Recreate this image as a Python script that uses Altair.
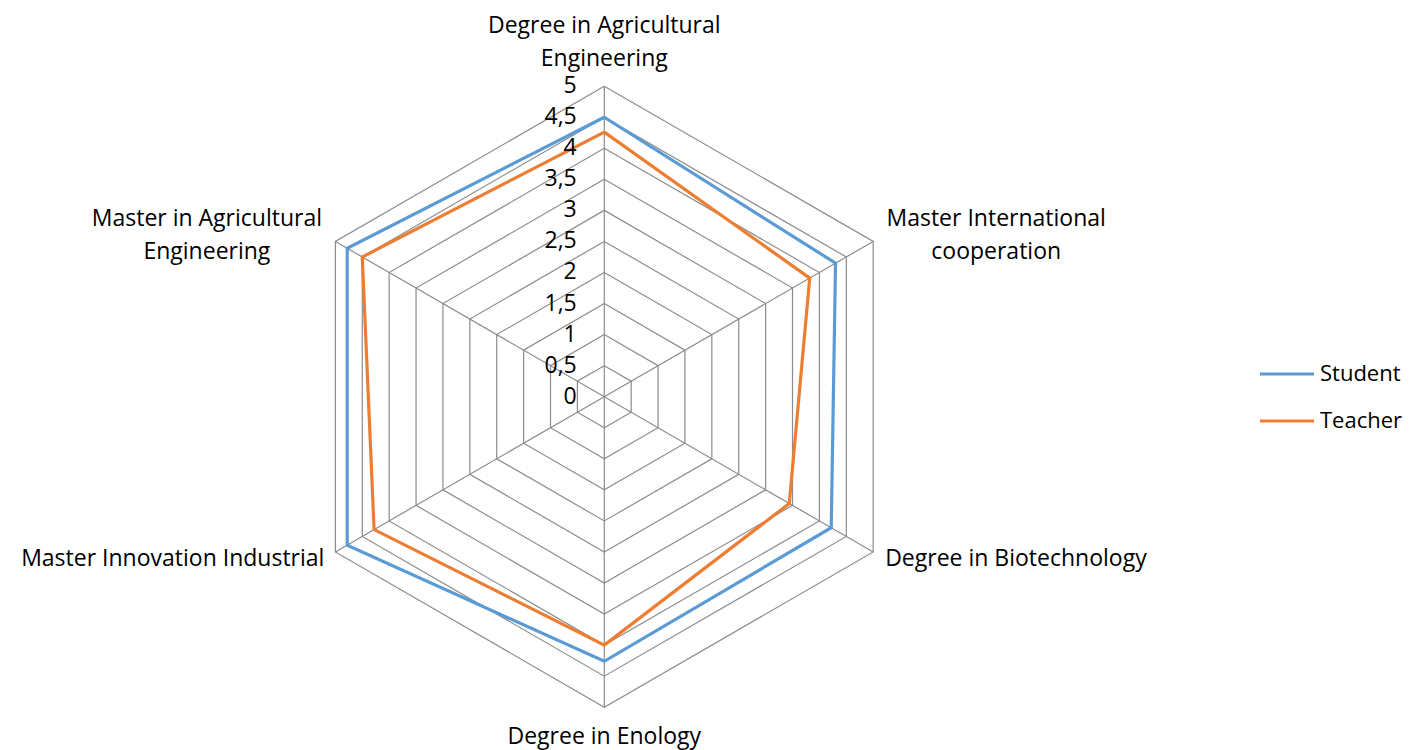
import altair as alt
import pandas as pd

categories = [
    "Degree in Agricultural\nEngineering",
    "Master International\ncooperation",
    "Degree in Biotechnology",
    "Degree in Enology",
    "Master Innovation Industrial",
    "Master in Agricultural\nEngineering",
]
student = [4.5, 4.3, 4.22, 4.26, 4.78, 4.78]
teacher = [4.26, 3.82, 3.44, 4.0, 4.28, 4.5]
series_names = ["Student", "Teacher"]
series_colors = ["#5B9BD5", "#ED7D31"]
tick_values = [0, 0.5, 1, 1.5, 2, 2.5, 3, 3.5, 4, 4.5, 5]
tick_labels = ["0", "0,5", "1", "1,5", "2", "2,5", "3", "3,5", "4", "4,5", "5"]

FONT = "Open Sans"
FS = 23
n = len(categories)
rmax = tick_values[-1]

# tables built from the arrays above
series_rows = []
for name, vals in zip(series_names, [student, teacher]):
    for k in range(n + 1):
        series_rows.append({"series": name, "idx": k % n, "ord": k, "r": vals[k % n]})
series_df = pd.DataFrame(series_rows)

ring_rows = []
for lv in tick_values[1:]:
    for k in range(n + 1):
        ring_rows.append({"level": lv, "idx": k % n, "ord": k, "r": lv})
ring_df = pd.DataFrame(ring_rows)

spoke_df = pd.DataFrame({"idx": list(range(n)), "r": [rmax] * n})
tick_df = pd.DataFrame({"v": tick_values, "label": tick_labels})

xs = alt.Scale(domain=[-9.602, 12.878], nice=False, zero=False)
ys = alt.Scale(domain=[-5.689, 6.259], nice=False, zero=False)

def polar(ch):
    return ch.transform_calculate(
        px="datum.r * sin(datum.idx * PI / 3)",
        py="datum.r * cos(datum.idx * PI / 3)",
    )

GRID = "#8C8C8C"

rings = polar(alt.Chart(ring_df)).mark_line(color=GRID, strokeWidth=1.2).encode(
    x=alt.X("px:Q", scale=xs, axis=None),
    y=alt.Y("py:Q", scale=ys, axis=None),
    detail="level:N",
    order="ord:Q",
)

spokes = polar(alt.Chart(spoke_df)).mark_rule(color=GRID, strokeWidth=1.2).encode(
    x=alt.X("zx:Q", scale=xs, axis=None),
    y=alt.Y("zy:Q", scale=ys, axis=None),
    x2="px:Q",
    y2="py:Q",
).transform_calculate(zx="0", zy="0")

lines = polar(alt.Chart(series_df)).mark_line(strokeWidth=3.2, strokeJoin="miter").encode(
    x=alt.X("px:Q", scale=xs, axis=None),
    y=alt.Y("py:Q", scale=ys, axis=None),
    color=alt.Color(
        "series:N",
        scale=alt.Scale(domain=series_names, range=series_colors),
        legend=alt.Legend(
            title=None,
            orient="none",
            legendX=1250,
            legendY=337,
            symbolType="stroke",
            symbolSize=2916,
            symbolStrokeWidth=3.2,
            labelFont=FONT,
            labelFontSize=22,
            labelColor="#000000",
            labelOffset=4,
            rowPadding=7,
        ),
    ),
    detail="series:N",
    order="ord:Q",
)

ticks = alt.Chart(tick_df).mark_text(
    align="right", baseline="middle", dx=-27.5, font=FONT, fontSize=FS, color="#000000"
).encode(
    x=alt.X("zx:Q", scale=xs, axis=None),
    y=alt.Y("v:Q", scale=ys, axis=None),
    text="label:N",
).transform_calculate(zx="0")

# label placement (align, dx, dy) around each outer vertex
placement = [
    ("center", 0, -60.5),
    ("center", 123, -22),
    ("left", 12, 7),
    ("center", 0, 30),
    ("right", -11, 7),
    ("center", -128.5, -22),
]
label_layers = []
for i, (cat, (al, dx, dy)) in enumerate(zip(categories, placement)):
    d = pd.DataFrame({"idx": [i], "r": [rmax], "label": [cat]})
    label_layers.append(
        polar(alt.Chart(d)).mark_text(
            align=al, baseline="middle", dx=dx, dy=dy, font=FONT, fontSize=FS,
            color="#000000", lineBreak="\n", lineHeight=33,
        ).encode(
            x=alt.X("px:Q", scale=xs, axis=None),
            y=alt.Y("py:Q", scale=ys, axis=None),
            text="label:N",
        )
    )

chart = alt.layer(rings, spokes, lines, ticks, *label_layers).properties(
    width=1396, height=742, padding=0,
    autosize=alt.AutoSizeParams(type="none"),
).configure_view(stroke=None)

chart.save("out.html", embed_options={"renderer": "svg", "actions": False})
